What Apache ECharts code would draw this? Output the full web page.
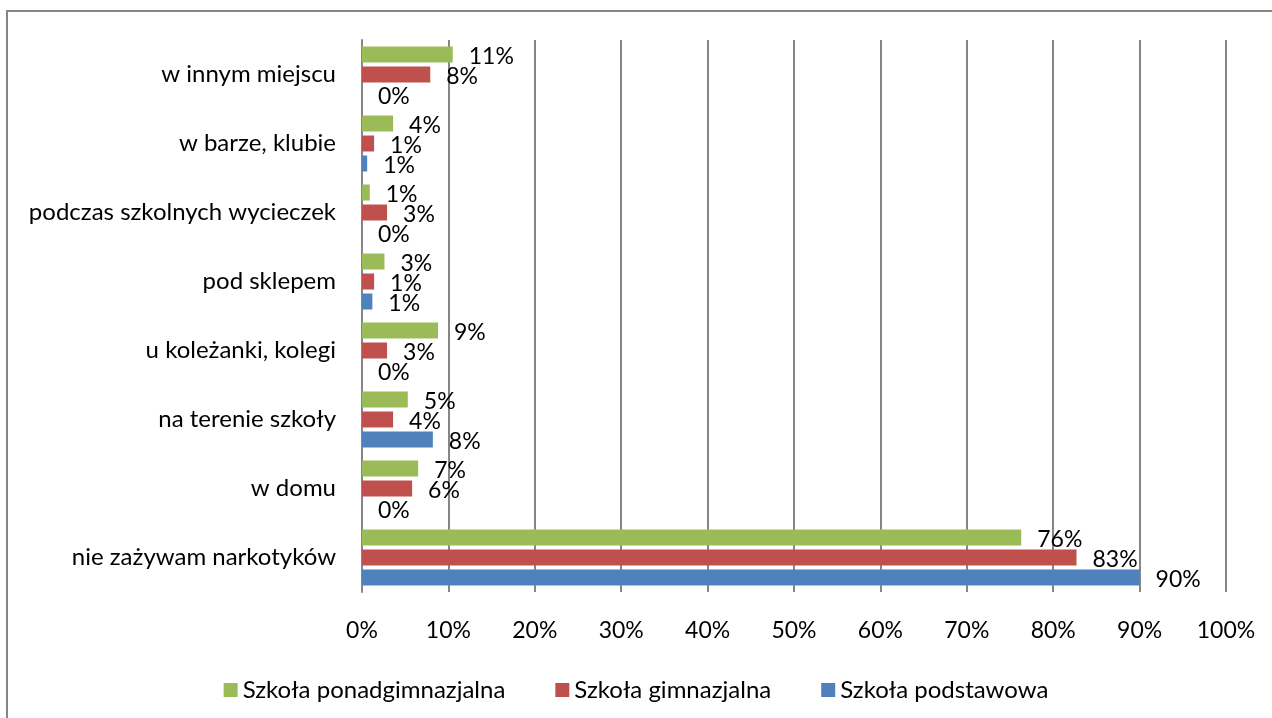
<!DOCTYPE html>
<html>
<head>
<meta charset="utf-8">
<script src="https://cdn.jsdelivr.net/npm/echarts@6/dist/echarts.min.js"></script>
<style>
  html, body { margin: 0; padding: 0; background: #fff; }
  #chart { width: 1272px; height: 718px; }
</style>
</head>
<body>
<div id="chart"></div>
<script>
// categories listed bottom -> top
var categories = [
  "nie zażywam narkotyków",
  "w domu",
  "na terenie szkoły",
  "u koleżanki, kolegi",
  "pod sklepem",
  "podczas szkolnych wycieczek",
  "w barze, klubie",
  "w innym miejscu"
]
var podstawowa = [90, 0, 8.2, 0, 1.2, 0, 0.6, 0]
var gimnazjalna = [82.7, 5.8, 3.6, 2.9, 1.4, 2.9, 1.4, 7.9]
var ponadgimnazjalna = [76.3, 6.5, 5.3, 8.8, 2.6, 0.9, 3.6, 10.5]
var xTicks = [0, 10, 20, 30, 40, 50, 60, 70, 80, 90, 100]

var font = "Lato, 'Liberation Sans', sans-serif"

function makeSeries(name, data, color) {
  return {
    name: name,
    type: "bar",
    data: data,
    barWidth: 16,
    barGap: "25%",
    itemStyle: { color: color },
    label: {
      show: true,
      position: "right",
      distance: 16,
      offset: [0, 2],
      color: "#000",
      fontFamily: font,
      fontSize: 23,
      formatter: function (p) { return Math.round(p.value) + "%" }
    }
  }
}

var chart = echarts.init(document.getElementById("chart"))
chart.setOption({
  animation: false,
  backgroundColor: "#fff",
  graphic: [{
    type: "rect",
    shape: { x: 7, y: 11, width: 1300, height: 800 },
    style: { fill: "none", stroke: "#868686", lineWidth: 2 },
    silent: true,
    z: -1
  }],
  grid: { left: 362, top: 40, width: 864, height: 552, containLabel: false },
  xAxis: {
    type: "value",
    min: 0,
    max: 100,
    interval: 10,
    axisLine: { show: false },
    axisTick: { show: false },
    splitLine: { show: true, lineStyle: { color: "#868686", width: 2 } },
    axisLabel: {
      margin: 27,
      color: "#000",
      fontFamily: font,
      fontSize: 23,
      formatter: function (v) { return xTicks.indexOf(v) >= 0 ? v + "%" : "" }
    }
  },
  yAxis: {
    type: "category",
    data: categories,
    axisLine: { show: true, lineStyle: { color: "#868686", width: 2 } },
    axisTick: { show: false },
    axisLabel: { margin: 26, color: "#000", fontFamily: font, fontSize: 24 }
  },
  legend: {
    data: ["Szkoła ponadgimnazjalna", "Szkoła gimnazjalna", "Szkoła podstawowa"],
    left: "center",
    top: 673,
    itemWidth: 14,
    itemHeight: 14,
    itemGap: 50,
    icon: "rect",
    textStyle: { color: "#000", fontFamily: font, fontSize: 24 }
  },
  series: [
    makeSeries("Szkoła ponadgimnazjalna", ponadgimnazjalna, "#9BBB59"),
    makeSeries("Szkoła gimnazjalna", gimnazjalna, "#C0504D"),
    makeSeries("Szkoła podstawowa", podstawowa, "#4F81BD")
  ]
})
</script>
</body>
</html>
